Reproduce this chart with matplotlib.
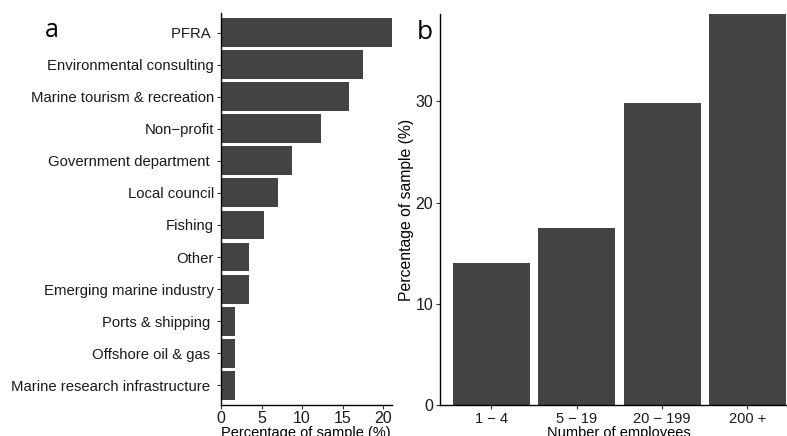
import matplotlib.pyplot as plt

plt.rcParams['font.family'] = ['Liberation Sans', 'DejaVu Sans']

# panel a: sector of respondents
sectors = ['PFRA ', 'Environmental consulting', 'Marine tourism & recreation', 'Non\u2212profit',
           'Government department ', 'Local council', 'Fishing', 'Other',
           'Emerging marine industry', 'Ports & shipping ', 'Offshore oil & gas ',
           'Marine research infrastructure ']
sector_pct = [21.05, 17.54, 15.79, 12.28, 8.77, 7.02, 5.26, 3.51, 3.51, 1.75, 1.75, 1.75]

# panel b: organisation size
sizes = ['1 \u2212 4', '5 \u2212 19', '20 \u2212 199', '200 +']
size_pct = [14.04, 17.54, 29.82, 38.6]

bar_col = '#434343'

fig = plt.figure(figsize=(7.87, 4.36), dpi=100)

# --- panel a
ax1 = fig.add_axes([0.2808, 0.0722, 0.2168, 0.8972])
ypos = list(range(len(sectors)))[::-1]
ax1.barh(ypos, sector_pct, height=0.9, color=bar_col)
ax1.set_yticks(ypos)
ax1.set_yticklabels(sectors, fontsize=10.75)
ax1.set_ylim(-0.6, 11.6)
ax1.set_xlim(0, 21.05)
ax1.set_xticks([0, 5, 10, 15, 20])
ax1.tick_params(axis='x', labelsize=11.5, pad=1.5)
ax1.set_xlabel('Percentage of sample (%)', fontsize=10.5, labelpad=0)
ax1.text(-1.03, 0.955, 'a', transform=ax1.transAxes, fontsize=18,
         family=['Open Sans', 'DejaVu Sans'], ha='left', va='center')

# --- panel b
ax2 = fig.add_axes([0.5591, 0.0711, 0.4558, 0.8958])
xpos = list(range(len(sizes)))
ax2.bar(xpos, size_pct, width=0.9, color=bar_col)
ax2.set_xticks(xpos)
ax2.set_xticklabels(sizes, fontsize=10.5)
ax2.set_xlim(-0.6, 3.6)
ax2.set_ylim(0, 38.6)
ax2.set_yticks([0, 10, 20, 30])
ax2.tick_params(axis='y', labelsize=11.5)
ax2.set_ylabel('Percentage of sample (%)', fontsize=11.3, labelpad=1)
ax2.set_xlabel('Number of employees', fontsize=10.5, labelpad=0)
ax2.text(-0.065, 0.954, 'b', transform=ax2.transAxes, fontsize=19,
         family=['Open Sans', 'DejaVu Sans'], ha='left', va='center')

for ax in (ax1, ax2):
    for s in ('top', 'right'):
        ax.spines[s].set_visible(False)
    for s in ('left', 'bottom'):
        ax.spines[s].set_color('black')
        ax.spines[s].set_linewidth(1.0)
    ax.tick_params(length=3, width=0.8, color='#333333', labelcolor='#1a1a1a', pad=2)

plt.savefig('out.png', dpi=100)
